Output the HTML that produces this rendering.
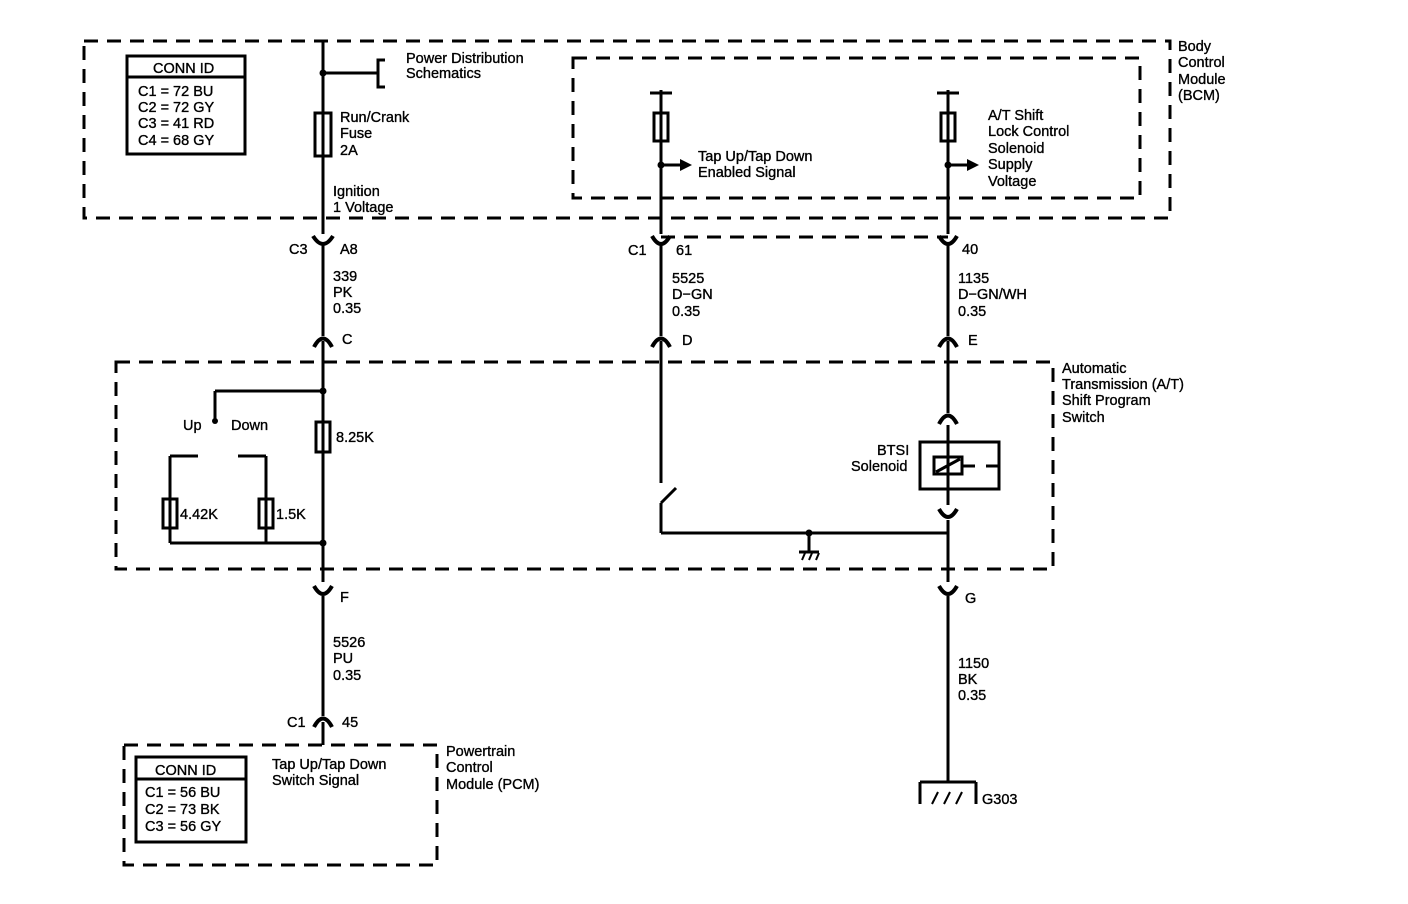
<!DOCTYPE html>
<html><head><style>
html,body{margin:0;padding:0;background:#fff}
svg{display:block}
text{font-family:"Liberation Sans",Arial,sans-serif;font-size:14.5px;fill:#000;stroke:#000;stroke-width:0.35}
</style></head><body>
<svg width="1408" height="904" viewBox="0 0 1408 904" xmlns="http://www.w3.org/2000/svg">
<g fill="none" stroke="#000" stroke-width="3" stroke-dasharray="14,9">
<rect x="84" y="41" width="1086" height="177"/>
<rect x="573" y="58" width="567" height="140"/>
<rect x="116" y="362" width="937" height="207"/>
<rect x="124" y="745" width="313" height="120"/>
<line x1="661" y1="237" x2="948" y2="237"/>
</g>
<g fill="none" stroke="#000" stroke-width="3">
<line x1="323" y1="41" x2="323" y2="234"/>
<line x1="323" y1="73" x2="378" y2="73"/>
<path d="M385 60 H378 V87 H385"/>
<rect x="315" y="113" width="16" height="43"/>
<line x1="323" y1="245" x2="323" y2="336"/>
<line x1="323" y1="341" x2="323" y2="582"/>
<line x1="323" y1="596" x2="323" y2="716"/>
<line x1="323" y1="722" x2="323" y2="745"/>
<line x1="215" y1="391" x2="323" y2="391"/>
<line x1="215" y1="391" x2="215" y2="420"/>
<rect x="316" y="422" width="14" height="30"/>
<line x1="170" y1="456" x2="198" y2="456"/>
<line x1="170" y1="456" x2="170" y2="543"/>
<line x1="238" y1="456" x2="266" y2="456"/>
<line x1="266" y1="456" x2="266" y2="543"/>
<rect x="163" y="499" width="14" height="29"/>
<rect x="259" y="499" width="14" height="29"/>
<line x1="170" y1="543" x2="323" y2="543"/>
<line x1="661" y1="90" x2="661" y2="234"/>
<line x1="650" y1="93" x2="672" y2="93"/>
<rect x="654" y="113" width="14" height="28"/>
<line x1="661" y1="165" x2="680" y2="165"/>
<line x1="661" y1="245" x2="661" y2="336"/>
<line x1="661" y1="341" x2="661" y2="483"/>
<line x1="661" y1="503" x2="676" y2="488"/>
<line x1="661" y1="503" x2="661" y2="533"/>
<line x1="661" y1="533" x2="948" y2="533"/>
<line x1="809" y1="533" x2="809" y2="552"/>
<line x1="799" y1="552" x2="819" y2="552"/>
<line x1="948" y1="90" x2="948" y2="234"/>
<line x1="937" y1="93" x2="959" y2="93"/>
<rect x="941" y="113" width="14" height="28"/>
<line x1="948" y1="165" x2="967" y2="165"/>
<line x1="948" y1="245" x2="948" y2="336"/>
<line x1="948" y1="341" x2="948" y2="413"/>
<line x1="948" y1="425" x2="948" y2="505"/>
<rect x="920" y="442" width="79" height="47"/>
<rect x="934" y="457" width="28" height="17"/>
<line x1="936" y1="472" x2="960" y2="459"/>
<line x1="962" y1="466" x2="975" y2="466"/>
<line x1="986" y1="466" x2="999" y2="466"/>
<line x1="948" y1="520" x2="948" y2="582"/>
<line x1="948" y1="596" x2="948" y2="782"/>
<line x1="920" y1="782" x2="976" y2="782"/>
<line x1="920" y1="782" x2="920" y2="804"/>
<line x1="976" y1="782" x2="976" y2="804"/>
<rect x="127" y="56" width="118" height="98"/>
<line x1="127" y1="77" x2="245" y2="77"/>
<rect x="136" y="757" width="110" height="85"/>
<line x1="136" y1="779" x2="246" y2="779"/>
</g>
<g fill="none" stroke="#000" stroke-width="4">
<path d="M313 236 Q323 252 333 236"/>
<path d="M314 347 Q323 330 332 347"/>
<path d="M314 586 Q323 602 332 586"/>
<path d="M314 727 Q323 710 332 727"/>
<path d="M652 236 Q661 252 670 236"/>
<path d="M652 347 Q661 330 670 347"/>
<path d="M939 236 Q948 252 957 236"/>
<path d="M939 347 Q948 330 957 347"/>
<path d="M939 424 Q948 407 957 424"/>
<path d="M939 509 Q948 525 957 509"/>
<path d="M939 586 Q948 602 957 586"/>
</g>
<g stroke="#000" stroke-width="2">
<line x1="932" y1="804" x2="938" y2="792"/><line x1="944" y1="804" x2="950" y2="792"/><line x1="956" y1="804" x2="962" y2="792"/>
<line x1="802" y1="560" x2="805" y2="553"/><line x1="809" y1="560" x2="812" y2="553"/><line x1="816" y1="560" x2="819" y2="553"/>
</g>
<g fill="#000">
<circle cx="323" cy="73" r="3.5"/><circle cx="323" cy="391" r="3.5"/><circle cx="323" cy="543" r="3.5"/>
<circle cx="661" cy="165" r="3.5"/><circle cx="948" cy="165" r="3.5"/><circle cx="809" cy="533" r="3.5"/>
<circle cx="215" cy="421" r="3"/>
<polygon points="680,159 692,165 680,171"/><polygon points="967,159 979,165 967,171"/>
</g>
<text x="153" y="73">CONN ID</text>
<text x="138" y="96">C1 = 72 BU</text><text x="138" y="112">C2 = 72 GY</text>
<text x="138" y="128">C3 = 41 RD</text><text x="138" y="145">C4 = 68 GY</text>
<text x="155" y="775">CONN ID</text>
<text x="145" y="797">C1 = 56 BU</text><text x="145" y="814">C2 = 73 BK</text><text x="145" y="831">C3 = 56 GY</text>
<text x="406" y="63">Power Distribution</text><text x="406" y="78">Schematics</text>
<text x="340" y="122">Run/Crank</text><text x="340" y="138">Fuse</text><text x="340" y="155">2A</text>
<text x="333" y="196">Ignition</text><text x="333" y="212">1 Voltage</text>
<text x="289" y="254">C3</text><text x="340" y="254">A8</text>
<text x="333" y="281">339</text><text x="333" y="297">PK</text><text x="333" y="313">0.35</text>
<text x="342" y="344">C</text>
<text x="698" y="161">Tap Up/Tap Down</text><text x="698" y="177">Enabled Signal</text>
<text x="988" y="120">A/T Shift</text><text x="988" y="136">Lock Control</text><text x="988" y="153">Solenoid</text><text x="988" y="169">Supply</text><text x="988" y="186">Voltage</text>
<text x="1178" y="51">Body</text><text x="1178" y="67">Control</text><text x="1178" y="84">Module</text><text x="1178" y="100">(BCM)</text>
<text x="628" y="255">C1</text><text x="676" y="255">61</text><text x="962" y="254">40</text>
<text x="672" y="283">5525</text><text x="672" y="299">D−GN</text><text x="672" y="316">0.35</text>
<text x="958" y="283">1135</text><text x="958" y="299">D−GN/WH</text><text x="958" y="316">0.35</text>
<text x="682" y="345">D</text><text x="968" y="345">E</text>
<text x="1062" y="373">Automatic</text><text x="1062" y="389">Transmission (A/T)</text><text x="1062" y="405">Shift Program</text><text x="1062" y="422">Switch</text>
<text x="183" y="430">Up</text><text x="231" y="430">Down</text>
<text x="336" y="442">8.25K</text>
<text x="180" y="519">4.42K</text><text x="276" y="519">1.5K</text>
<text x="877" y="455">BTSI</text><text x="851" y="471">Solenoid</text>
<text x="340" y="602">F</text><text x="965" y="603">G</text>
<text x="333" y="647">5526</text><text x="333" y="663">PU</text><text x="333" y="680">0.35</text>
<text x="958" y="668">1150</text><text x="958" y="684">BK</text><text x="958" y="700">0.35</text>
<text x="287" y="727">C1</text><text x="342" y="727">45</text>
<text x="272" y="769">Tap Up/Tap Down</text><text x="272" y="785">Switch Signal</text>
<text x="446" y="756">Powertrain</text><text x="446" y="772">Control</text><text x="446" y="789">Module (PCM)</text>
<text x="982" y="804">G303</text>
</svg>
</body></html>
